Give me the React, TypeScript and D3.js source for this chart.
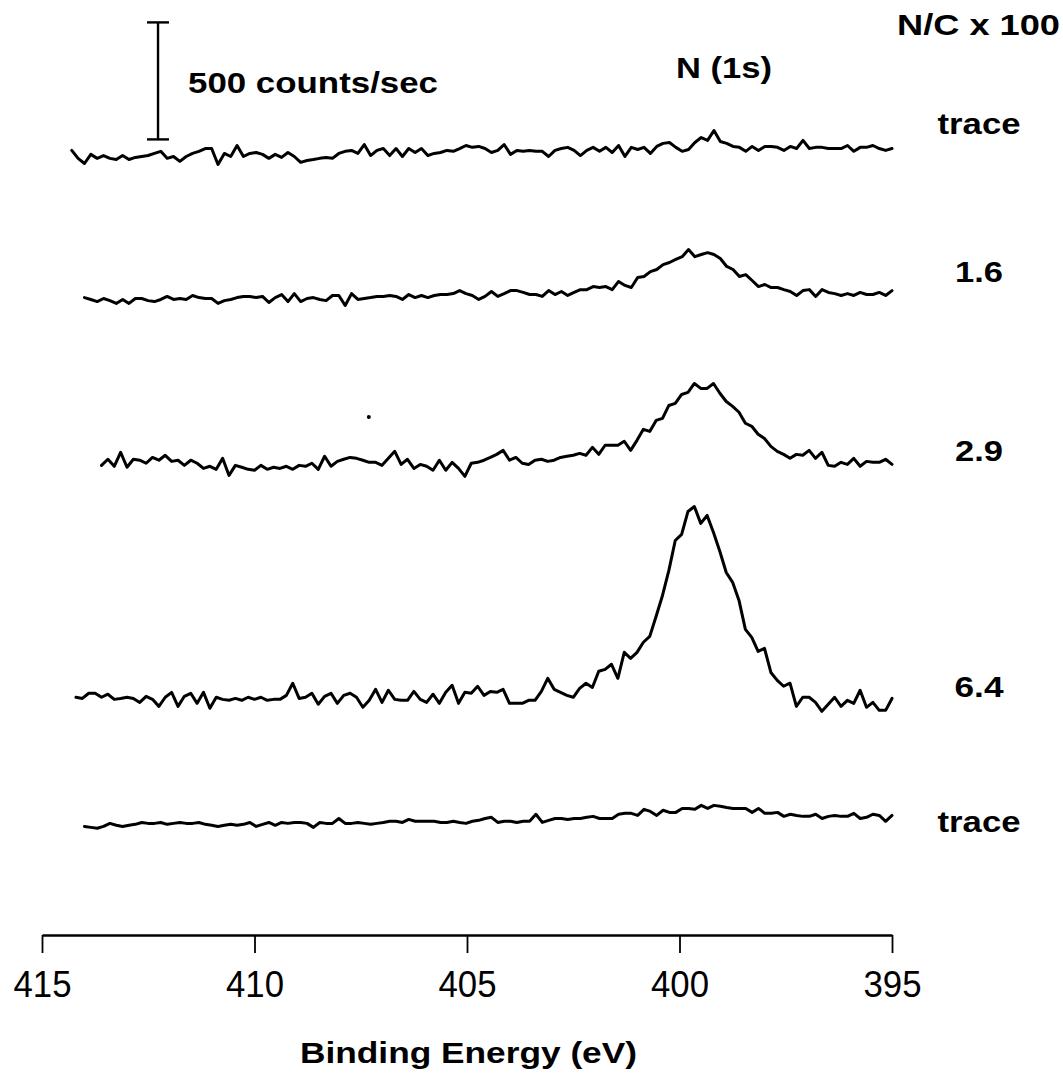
import React, { useEffect, useRef } from "react";
import * as d3 from "d3";

// ---- data (binding energy in eV, intensity in counts/sec relative to each spectrum's baseline) ----
const END_ENERGY = 395;

const seriesLabels = ["trace", "1.6", "2.9", "6.4", "trace"];
const seriesStartEnergy = [414.3, 414.0, 413.6, 414.2, 414.0];
const seriesOffsetCounts = [3340, 2720, 2020, 1020, 460];

const traceTop = [
  13, -21, -43, -4, -21, -9, -21, -26, -9, -26,
  -17, -13, -9, 0, 9, -21, -13, -34, -13, 0,
  9, 21, 21, -47, 0, -13, 34, -13, 0, 4,
  -4, -21, -4, -17, 4, -13, -38, -30, -26, -21,
  -17, -21, 0, 9, 13, 0, 38, -9, 13, 21,
  -9, 21, -13, 21, 4, 21, -9, 0, 4, 13,
  9, 21, 34, 26, 30, 21, 4, 13, 38, -4,
  13, 9, 13, 9, 9, -13, 13, 21, 26, 13,
  -9, 13, 26, 9, 26, 4, 34, -13, 26, 17,
  26, 0, 30, 43, 47, 26, 9, 17, 47, 68,
  56, 98, 51, 43, 30, 26, 9, 30, 13, 30,
  30, 26, 13, 30, 21, 56, 21, 26, 26, 21,
  21, 21, 34, 9, 26, 26, 34, 21, 13, 21,
];

const nc16 = [
  4, -4, -13, 0, -9, -21, -4, -21, 0, 0,
  -9, -13, -4, 9, -4, 0, -4, 13, 4, 0,
  0, -21, -9, -4, 4, 9, 9, 4, 9, -17,
  4, 17, -13, 21, -13, 0, 4, -4, -9, 13,
  13, -30, 21, -4, 0, 4, 9, 9, 13, 9,
  -4, 17, 4, 13, 4, 13, 17, 17, 21, 34,
  21, 13, -4, 9, 30, 9, 21, 34, 34, 26,
  17, 17, 9, 34, 17, 30, 13, 26, 38, 38,
  51, 47, 51, 38, 73, 56, 47, 90, 94, 115,
  124, 145, 154, 167, 179, 209, 179, 188, 196, 188,
  171, 137, 124, 94, 102, 77, 51, 60, 47, 47,
  38, 30, 13, 34, 38, 9, 38, 26, 21, 13,
  21, 13, 26, 17, 17, 26, 13, 34,
];

const nc29 = [
  -13, 13, -17, 43, -21, 13, 9, -4, 21, 9,
  30, 4, 9, -13, 9, -4, -26, -17, -30, 17,
  -56, -13, -21, -30, -34, -13, -30, -21, -26, -17,
  -30, -13, -17, -4, -30, 26, -17, 4, 13, 21,
  17, 9, 0, 0, -13, 17, 47, -9, 13, -26,
  -9, -17, -34, 9, -34, 0, -26, -60, -4, 0,
  9, 21, 34, 51, 9, 21, -4, -9, 9, 13,
  4, 9, 21, 26, 30, 38, 30, 64, 34, 73,
  73, 73, 90, 51, 94, 141, 132, 179, 188, 243,
  252, 290, 299, 337, 316, 316, 337, 295, 260, 239,
  214, 167, 154, 120, 102, 68, 47, 34, 17, 34,
  30, 51, 17, 43, -13, -17, 0, -9, 17, -17,
  4, 0, 0, 13, -9,
];

const nc64 = [
  -4, -9, 13, 13, -4, 9, -13, -9, -4, -9,
  -26, 0, -13, -43, -4, 17, -43, 0, 13, -30,
  17, -51, -4, -13, -17, -9, -17, -4, -13, -4,
  -17, -13, -13, 4, 56, -9, -4, 13, -34, 0,
  13, -30, 4, 13, -4, -47, -17, 30, -26, 26,
  -13, -17, -17, 21, -13, -26, 9, -30, 17, 47,
  -30, 17, 13, 43, 4, 21, 17, 30, -30, -30,
  -30, -17, -17, 21, 77, 30, 17, 4, -4, 34,
  56, 38, 107, 115, 137, 77, 188, 162, 188, 231,
  256, 342, 431, 538, 666, 692, 790, 811, 739, 773,
  700, 619, 529, 487, 410, 286, 252, 192, 205, 102,
  68, 43, 56, -43, -4, -4, -26, -64, -34, -4,
  -43, -17, -30, 26, -47, -26, -60, -60, -9,
];

const traceBottom = [
  4, 0, -4, 4, 17, 9, 4, 9, 13, 21,
  17, 17, 21, 13, 17, 21, 17, 17, 21, 13,
  9, 4, 9, 13, 9, 13, 21, 4, 13, 21,
  9, 21, 17, 21, 21, 17, 0, 21, 17, 17,
  38, 17, 17, 21, 17, 13, 17, 21, 26, 26,
  21, 34, 26, 26, 26, 26, 21, 21, 26, 21,
  17, 26, 30, 38, 43, 21, 26, 26, 21, 26,
  26, 56, 21, 30, 38, 38, 34, 38, 38, 43,
  47, 38, 38, 38, 56, 60, 60, 51, 77, 68,
  51, 73, 64, 64, 81, 81, 77, 94, 81, 94,
  90, 85, 81, 81, 81, 64, 81, 60, 60, 64,
  47, 56, 51, 47, 47, 56, 38, 47, 51, 47,
  47, 60, 38, 43, 56, 51, 26, 51,
];

const seriesValues = [traceTop, nc16, nc29, nc64, traceBottom];

const tickValues = [415, 410, 405, 400, 395];
const xTitle = "Binding Energy (eV)";
const peakLabel = "N (1s)";
const columnHeader = "N/C x 100";
const scaleBarText = "500 counts/sec";
const scaleBarCounts = 500;
const scaleBarBaseCounts = 3400;
const scaleBarEnergy = 412.27;
const speck = { e: 407.31, c: 2214 };

// ---- layout ----
const W = 1063;
const H = 1074;
const AXIS_Y = 935;
const FONT = "'Liberation Sans', Arial, Helvetica, sans-serif";
// label baselines (in counts on the stacked scale) and widths
const labelLayout = [
  { baseCounts: 3424, width: 83 },
  { baseCounts: 2792, width: 48 },
  { baseCounts: 2027, width: 48 },
  { baseCounts: 1018, width: 49 },
  { baseCounts: 440, width: 83 },
];

export default function App() {
  const axisRef = useRef<SVGGElement | null>(null);

  const x = d3.scaleLinear().domain([415, 395]).range([42, 892]);
  const y = d3.scaleLinear().domain([0, 4000]).range([AXIS_Y, -1]);

  useEffect(() => {
    if (!axisRef.current) return;
    const g = d3.select(axisRef.current);
    g.selectAll("*").remove();
    const axis = d3
      .axisBottom(x)
      .tickValues(tickValues)
      .tickSize(18)
      .tickSizeOuter(0)
      .tickPadding(9)
      .tickFormat((d) => String(d));
    g.call(axis as any);
    g.select(".domain").attr("stroke", "#000").attr("stroke-width", 2.4);
    g.selectAll(".tick line").attr("stroke", "#000").attr("stroke-width", 1.8);
    g.selectAll(".tick text")
      .attr("fill", "#000")
      .attr("font-family", FONT)
      .attr("font-size", 37)
      .attr("dy", null)
      .attr("y", 62)
      .attr("textLength", 58)
      .attr("lengthAdjust", "spacingAndGlyphs");
  }, []);

  const line = d3
    .line<{ e: number; v: number }>()
    .x((d) => x(d.e))
    .y((d) => y(d.v));

  const paths = seriesValues.map((vals, si) => {
    const e0 = seriesStartEnergy[si];
    const n = vals.length;
    const pts = vals.map((v, i) => ({
      e: e0 + ((END_ENERGY - e0) * i) / (n - 1),
      v: v + seriesOffsetCounts[si],
    }));
    return line(pts) || "";
  });

  const sbX = x(scaleBarEnergy);
  const sbY0 = y(scaleBarBaseCounts);
  const sbY1 = y(scaleBarBaseCounts + scaleBarCounts);

  return (
    <svg
      width={W}
      height={H}
      viewBox={`0 0 ${W} ${H}`}
      style={{ position: "absolute", left: 0, top: 0, background: "#fff" }}
    >
      <rect x={0} y={0} width={W} height={H} fill="#fff" />
      {paths.map((d, i) => (
        <path
          key={i}
          d={d}
          fill="none"
          stroke="#000"
          strokeWidth={3}
          strokeLinejoin="round"
          strokeLinecap="round"
        />
      ))}

      {/* scale bar */}
      <g stroke="#000" strokeWidth={2.4}>
        <line x1={sbX} x2={sbX} y1={sbY0} y2={sbY1} />
        <line x1={sbX - 11} x2={sbX + 11} y1={sbY0} y2={sbY0} />
        <line x1={sbX - 11} x2={sbX + 11} y1={sbY1} y2={sbY1} />
      </g>
      <text
        x={188}
        y={93}
        fontFamily={FONT}
        fontWeight="bold"
        fontSize={30}
        textLength={250}
        lengthAdjust="spacingAndGlyphs"
      >
        {scaleBarText}
      </text>

      <text
        x={676}
        y={78}
        fontFamily={FONT}
        fontWeight="bold"
        fontSize={30}
        textLength={96}
        lengthAdjust="spacingAndGlyphs"
      >
        {peakLabel}
      </text>
      <text
        x={897}
        y={35}
        fontFamily={FONT}
        fontWeight="bold"
        fontSize={30}
        textLength={163}
        lengthAdjust="spacingAndGlyphs"
      >
        {columnHeader}
      </text>

      {seriesLabels.map((t, i) => {
        const L = labelLayout[i];
        return (
          <text
            key={i}
            x={979 - L.width / 2}
            y={y(L.baseCounts)}
            fontFamily={FONT}
            fontWeight="bold"
            fontSize={30}
            textLength={L.width}
            lengthAdjust="spacingAndGlyphs"
          >
            {t}
          </text>
        );
      })}

      <circle cx={x(speck.e)} cy={y(speck.c)} r={2} fill="#000" />

      <g ref={axisRef} transform={`translate(0,${AXIS_Y})`} />

      <text
        x={300}
        y={1063}
        fontFamily={FONT}
        fontWeight="bold"
        fontSize={30}
        textLength={337}
        lengthAdjust="spacingAndGlyphs"
      >
        {xTitle}
      </text>
    </svg>
  );
}
